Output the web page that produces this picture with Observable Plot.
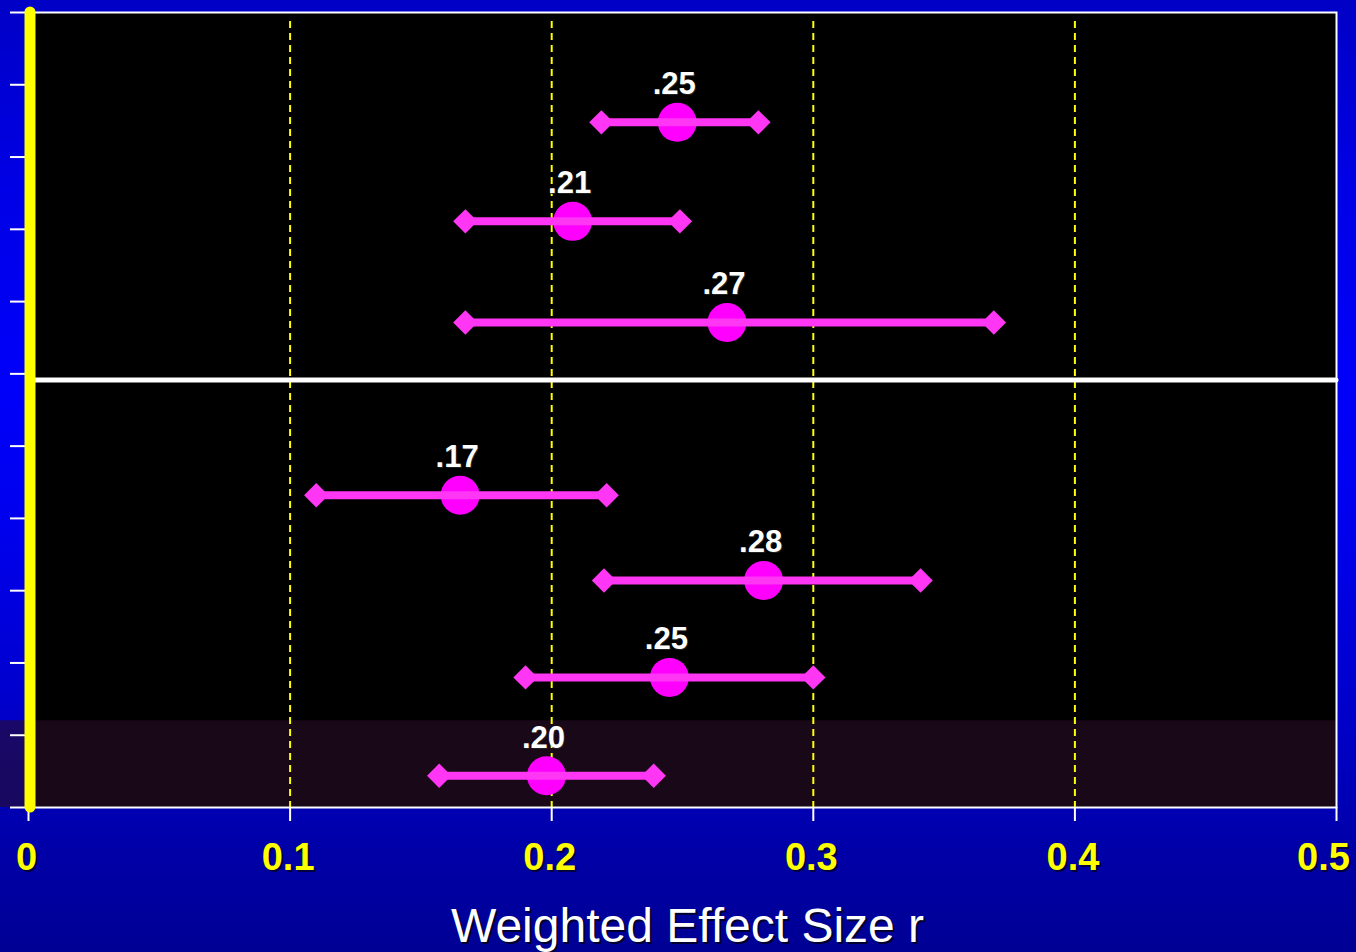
<!DOCTYPE html>
<html>
<head>
<meta charset="utf-8">
<script src="https://cdn.jsdelivr.net/npm/d3@7"></script>
<script src="https://cdn.jsdelivr.net/npm/@observablehq/plot@0.6"></script>
<style>
  html, body { margin: 0; padding: 0; }
  body {
    width: 1356px; height: 952px; overflow: hidden;
    background: linear-gradient(to bottom, #0000c6 0%, #0000e6 20%, #0000fa 40%, #0000ee 55%, #0000c4 78%, #0000a6 90%, #000094 100%);
  }
</style>
</head>
<body>
<div id="chart"></div>
<script>
// ---- data ----
const estimates = [0.248, 0.208, 0.267, 0.165, 0.281, 0.245, 0.198];
const lowerCI   = [0.219, 0.167, 0.167, 0.110, 0.220, 0.190, 0.157];
const upperCI   = [0.279, 0.249, 0.369, 0.221, 0.341, 0.300, 0.239];
const valueLabels = [".25", ".21", ".27", ".17", ".28", ".25", ".20"];
const rowPositions = [9.48, 8.11, 6.71, 4.32, 3.14, 1.80, 0.44];
const xTicks = [0, 0.1, 0.2, 0.3, 0.4, 0.5];
const xTickLabels = ["0", "0.1", "0.2", "0.3", "0.4", "0.5"];
const gridX = [0.1, 0.2, 0.3, 0.4];
const yTicks = [0, 1, 2, 3, 4, 5, 6, 7, 8, 9, 10, 11];
const dividerY = [5.915];
const shadeBand = [{x1: 0, x2: 0.5, y1: 0, y2: 1.2}];
const axisTitle = "Weighted Effect Size r";

const rows = estimates.map((e, i) => ({
  est: e, lo: lowerCI[i], hi: upperCI[i], label: valueLabels[i], y: rowPositions[i]
}));
const tickRows = xTicks.map((v, i) => ({v, label: xTickLabels[i], last: i === xTicks.length - 1}));

const font = "'Liberation Sans', Arial, Helvetica, sans-serif";

function tickLabelMarks(filter, dx) {
  return [
    Plot.text(tickRows, {filter, x: "v", text: "label", frameAnchor: "bottom", lineAnchor: "middle", dy: 52, dx: dx + 2, fill: "#000040", fontSize: 38, fontWeight: "bold"}),
    Plot.text(tickRows, {filter, x: "v", text: "label", frameAnchor: "bottom", lineAnchor: "middle", dy: 50, dx, fill: "#ffff00", fontSize: 38, fontWeight: "bold"})
  ];
}

const chart = Plot.plot({
  width: 1356,
  height: 952,
  marginLeft: 28,
  marginRight: 20,
  marginTop: 12,
  marginBottom: 145,
  x: {domain: [0, 0.5]},
  y: {domain: [0, 11]},
  style: {background: "transparent", fontFamily: font, overflow: "visible"},
  marks: [
    Plot.frame({fill: "black"}),
    Plot.rect(shadeBand, {x1: "x1", x2: "x2", y1: "y1", y2: "y2", fill: "#2a0e26", fillOpacity: 0.6, insetLeft: -28, ariaLabel: "shade"}),
    Plot.ruleX(gridX, {stroke: "#ffff00", strokeWidth: 2, strokeDasharray: "7,5", insetTop: 9}),
    Plot.ruleY(dividerY, {stroke: "white", strokeWidth: 5, strokeLinecap: "round"}),
    Plot.frame({stroke: "white", strokeWidth: 2}),
    Plot.axisY({ticks: yTicks, tickSize: 18, tickFormat: () => "", stroke: "white", strokeWidth: 2, label: null}),
    Plot.axisX({ticks: xTicks, tickSize: 14, tickFormat: () => "", stroke: "white", strokeWidth: 2, label: null}),
    Plot.ruleX([0], {y1: 0, y2: 11, stroke: "#ffff00", strokeWidth: 11, strokeLinecap: "round", dx: 1.5}),
    // estimates
    Plot.dot(rows, {x: "est", y: "y", r: 19.5, fill: "#ff00ff", stroke: "none"}),
    Plot.link(rows, {x1: "lo", x2: "hi", y1: "y", y2: "y", stroke: "#ff36f4", strokeWidth: 8}),
    Plot.dot(rows, {x: "lo", y: "y", symbol: "diamond2", r: 11, fill: "#ff36f4", stroke: "none"}),
    Plot.dot(rows, {x: "hi", y: "y", symbol: "diamond2", r: 11, fill: "#ff36f4", stroke: "none"}),
    // value labels
    Plot.text(rows, {x: "est", y: "y", text: "label", dy: -37, dx: -2, fill: "#222222", fontSize: 31, fontWeight: "bold"}),
    Plot.text(rows, {x: "est", y: "y", text: "label", dy: -38, dx: -3, fill: "white", fontSize: 31, fontWeight: "bold"}),
    // x tick labels
    ...tickLabelMarks(d => !d.last, -2),
    ...tickLabelMarks(d => d.last, -13),
    // axis title
    Plot.text([axisTitle], {frameAnchor: "bottom", lineAnchor: "middle", dy: 121, dx: 7, fill: "#000030", fontSize: 48}),
    Plot.text([axisTitle], {frameAnchor: "bottom", lineAnchor: "middle", dy: 119, dx: 5, fill: "white", fontSize: 48})
  ]
});

// dotted texture for the shaded band
const svgSel = d3.select(chart);
const defs = svgSel.insert("defs", ":first-child");
const pat = defs.append("pattern").attr("id", "dots").attr("width", 3).attr("height", 3).attr("patternUnits", "userSpaceOnUse");
pat.append("rect").attr("width", 3).attr("height", 3).attr("fill", "rgba(40,12,36,0.45)");
pat.append("rect").attr("x", 0).attr("y", 0).attr("width", 1).attr("height", 1).attr("fill", "#7a2e70");
pat.append("rect").attr("x", 2).attr("y", 1).attr("width", 1).attr("height", 1).attr("fill", "#4e1c48");
const shadeG = svgSel.select('[aria-label="shade"]');
shadeG.attr("fill", "url(#dots)").attr("fill-opacity", 1);
shadeG.selectAll("rect").attr("fill", "url(#dots)").attr("fill-opacity", 1);

document.getElementById("chart").appendChild(chart);
</script>
</body>
</html>
